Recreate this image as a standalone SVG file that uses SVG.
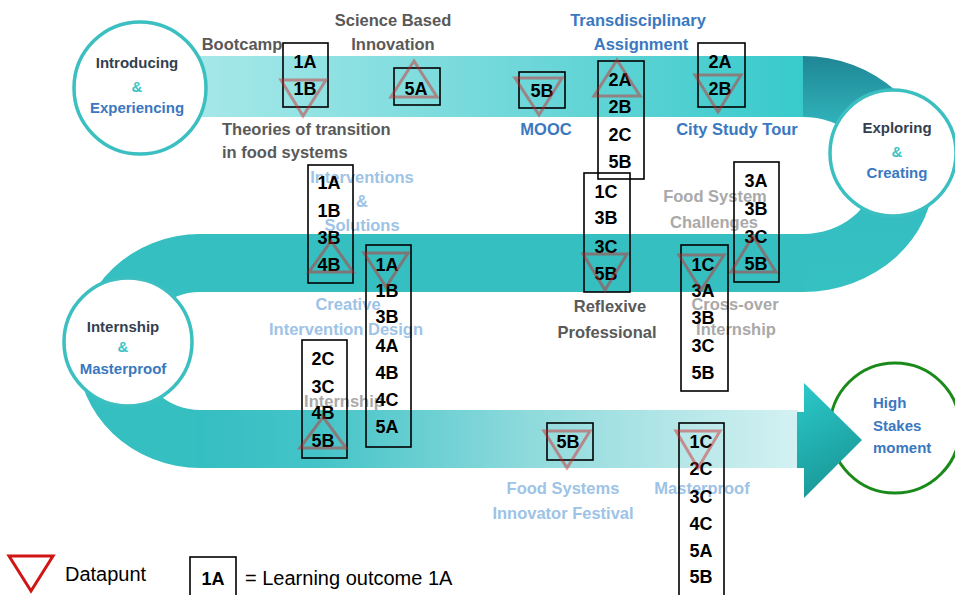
<svg xmlns="http://www.w3.org/2000/svg" width="955" height="595" viewBox="0 0 955 595">
  <defs>
    <linearGradient id="gTop" x1="200" y1="0" x2="803" y2="0" gradientUnits="userSpaceOnUse">
      <stop offset="0" stop-color="#a6e8e9"/>
      <stop offset="0.5" stop-color="#72d8da"/>
      <stop offset="1" stop-color="#38cacb"/>
    </linearGradient>
    <linearGradient id="gBend" x1="0" y1="56" x2="0" y2="292" gradientUnits="userSpaceOnUse">
      <stop offset="0" stop-color="#1f8696"/>
      <stop offset="0.35" stop-color="#34bcc2"/>
      <stop offset="1" stop-color="#35c0c1"/>
    </linearGradient>
    <linearGradient id="gBottom" x1="200" y1="0" x2="800" y2="0" gradientUnits="userSpaceOnUse">
      <stop offset="0" stop-color="#35bec2"/>
      <stop offset="0.2" stop-color="#45c4c8"/>
      <stop offset="0.55" stop-color="#8fdadc"/>
      <stop offset="1" stop-color="#d4f1f2"/>
    </linearGradient>
    <linearGradient id="gArrow" x1="797" y1="383" x2="862" y2="498" gradientUnits="userSpaceOnUse">
      <stop offset="0" stop-color="#2ccacb"/>
      <stop offset="1" stop-color="#168f8e"/>
    </linearGradient>
    <style>
      .lbl { font-family: "Liberation Sans", Arial, sans-serif; font-weight: bold; font-size: 16.5px; text-anchor: middle; }
      .st { text-anchor: start; }
      .circ { font-size: 15px; }
      .dark { fill: #595959; }
      .blue { fill: #3a78bf; }
      .lblue { fill: #9dc3e6; }
      .lgray { fill: #a9a9a9; }
      .head { fill: #333f50; }
      .amp { fill: #3cc4c6; }
      .box { fill: none; stroke: #000; stroke-width: 1.6; }
      .lo { font-family: "Liberation Sans", Arial, sans-serif; font-weight: bold; font-size: 18px; fill: #000; text-anchor: middle; }
      .dp { fill: none; stroke: #d42020; stroke-opacity: 0.45; stroke-width: 3; stroke-linejoin: miter; }
      .ring { fill: #fff; stroke: #3cbfc0; stroke-width: 3.5; }
      .leg { font-family: "Liberation Sans", Arial, sans-serif; font-size: 20px; fill: #000; }
    </style>
  </defs>

  <!-- winding route -->
  <g id="route">
    <rect x="190" y="56" width="614" height="61" fill="url(#gTop)"/>
    <path d="M803,56 A131,118 0 0 1 803,292 L803,234 A70,58 0 0 0 803,117 Z" fill="url(#gBend)"/>
    <rect x="196" y="234" width="608" height="58" fill="#35bfc1"/>
    <path d="M200,234 A123,117 0 0 0 200,468 L200,410 A61,59 0 0 1 200,292 Z" fill="#35bfc1"/>
    <rect x="198" y="410" width="600" height="58" fill="url(#gBottom)"/>
  </g>

  <!-- phase circles -->
  <g id="introducing">
    <circle class="ring" cx="140" cy="88" r="66"/>
    <text class="lbl circ head" x="137" y="68">Introducing</text>
    <text class="lbl circ amp" x="137" y="92">&amp;</text>
    <text class="lbl circ blue" x="137" y="113">Experiencing</text>
  </g>
  <g id="exploring">
    <circle class="ring" cx="893" cy="153" r="63"/>
    <text class="lbl circ head" x="897" y="133">Exploring</text>
    <text class="lbl circ amp" x="897" y="157">&amp;</text>
    <text class="lbl circ blue" x="897" y="178">Creating</text>
  </g>
  <g id="internship-circle">
    <circle class="ring" cx="128" cy="342" r="64"/>
    <text class="lbl circ head" x="123" y="332">Internship</text>
    <text class="lbl circ amp" x="123" y="352">&amp;</text>
    <text class="lbl circ blue" x="123" y="374">Masterproof</text>
  </g>
  <g id="high-stakes">
    <circle cx="895" cy="428" r="65" fill="#fff" stroke="#1a8a1a" stroke-width="3"/>
    <text class="lbl circ blue st" x="873" y="408">High</text>
    <text class="lbl circ blue st" x="873" y="431">Stakes</text>
    <text class="lbl circ blue st" x="873" y="453">moment</text>
  </g>

  <!-- final arrow into the last phase -->
  <g id="arrow">
    <path d="M797,412 L804,412 L804,383 L862,440 L804,498 L804,468 L797,468 Z" fill="url(#gArrow)"/>
  </g>

  <!-- course labels -->
  <g id="labels">
    <text class="lbl dark" x="242" y="50">Bootcamp</text>
    <text class="lbl dark" x="393" y="26">Science Based</text>
    <text class="lbl dark" x="393" y="50">Innovation</text>
    <text class="lbl blue" x="638" y="26">Transdisciplinary</text>
    <text class="lbl blue" x="641" y="50">Assignment</text>
    <text class="lbl dark st" x="222" y="135">Theories of transition</text>
    <text class="lbl dark st" x="222" y="158">in food systems</text>
    <text class="lbl blue" x="546" y="135">MOOC</text>
    <text class="lbl blue" x="737" y="135">City Study Tour</text>
    <text class="lbl lblue" x="362" y="183">Interventions</text>
    <text class="lbl lblue" x="362" y="207">&amp;</text>
    <text class="lbl lblue" x="362" y="231">Solutions</text>
    <text class="lbl lblue" x="348" y="310">Creative</text>
    <text class="lbl lblue" x="346" y="335">Intervention Design</text>
    <text class="lbl lgray" x="715" y="202">Food System</text>
    <text class="lbl lgray" x="714" y="228">Challenges</text>
    <text class="lbl dark" x="610" y="312">Reflexive</text>
    <text class="lbl dark" x="607" y="338">Professional</text>
    <text class="lbl lgray" x="735" y="310">Cross-over</text>
    <text class="lbl lgray" x="736" y="335">Internship</text>
    <text class="lbl lgray" x="344" y="407">Internship</text>
    <text class="lbl lblue" x="563" y="494">Food Systems</text>
    <text class="lbl lblue" x="563" y="519">Innovator Festival</text>
    <text class="lbl lblue" x="702" y="494">Masterproof</text>
  </g>

  <!-- learning outcome boxes with data points -->
  <g id="bootcamp">
    <rect class="box" x="283" y="43" width="45" height="64"/>
    <text class="lo" x="305" y="68">1A</text>
    <text class="lo" x="305" y="95">1B</text>
    <polygon class="dp" points="281,80 326,80 303,116"/>
  </g>
  <g id="science-based">
    <rect class="box" x="394" y="68" width="46" height="37"/>
    <text class="lo" x="416" y="95">5A</text>
    <polygon class="dp" points="414,61 437,97 391,97"/>
  </g>
  <g id="mooc">
    <rect class="box" x="519" y="72" width="46" height="36"/>
    <text class="lo" x="542" y="97">5B</text>
    <polygon class="dp" points="515,78 562,78 539,115"/>
  </g>
  <g id="transdisciplinary">
    <rect class="box" x="598" y="61" width="46" height="118"/>
    <text class="lo" x="620" y="86">2A</text>
    <text class="lo" x="620" y="113">2B</text>
    <text class="lo" x="620" y="141">2C</text>
    <text class="lo" x="620" y="168">5B</text>
    <polygon class="dp" points="617,60 640,96 594,96"/>
  </g>
  <g id="city-study-tour">
    <rect class="box" x="698" y="43" width="47" height="64"/>
    <text class="lo" x="720" y="68">2A</text>
    <text class="lo" x="720" y="95">2B</text>
    <polygon class="dp" points="695,75 741,75 718,112"/>
  </g>
  <g id="food-system-challenges">
    <rect class="box" x="734" y="162" width="45" height="120"/>
    <text class="lo" x="756" y="187">3A</text>
    <text class="lo" x="756" y="215">3B</text>
    <text class="lo" x="756" y="243">3C</text>
    <text class="lo" x="756" y="270">5B</text>
    <polygon class="dp" points="753,236 776,272 731,272"/>
  </g>
  <g id="reflexive-professional">
    <rect class="box" x="584" y="173" width="46" height="119"/>
    <text class="lo" x="606" y="198">1C</text>
    <text class="lo" x="606" y="224">3B</text>
    <text class="lo" x="606" y="253">3C</text>
    <text class="lo" x="606" y="280">5B</text>
    <polygon class="dp" points="583,254 627,254 605,290"/>
  </g>
  <g id="cross-over-internship">
    <rect class="box" x="681" y="245" width="47" height="146"/>
    <text class="lo" x="703" y="271">1C</text>
    <text class="lo" x="703" y="297">3A</text>
    <text class="lo" x="703" y="324">3B</text>
    <text class="lo" x="703" y="352">3C</text>
    <text class="lo" x="703" y="379">5B</text>
    <polygon class="dp" points="679,255 724,255 701,290"/>
  </g>
  <g id="interventions-solutions">
    <rect class="box" x="308" y="165" width="45" height="118"/>
    <text class="lo" x="329" y="189">1A</text>
    <text class="lo" x="329" y="217">1B</text>
    <text class="lo" x="329" y="244">3B</text>
    <text class="lo" x="329" y="271">4B</text>
    <polygon class="dp" points="331,241 353,272 309,272"/>
  </g>
  <g id="creative-intervention-design">
    <rect class="box" x="366" y="245" width="45" height="202"/>
    <text class="lo" x="387" y="271">1A</text>
    <text class="lo" x="387" y="297">1B</text>
    <text class="lo" x="387" y="323">3B</text>
    <text class="lo" x="387" y="352">4A</text>
    <text class="lo" x="387" y="379">4B</text>
    <text class="lo" x="387" y="406">4C</text>
    <text class="lo" x="387" y="433">5A</text>
    <polygon class="dp" points="364,253 408,253 386,287"/>
  </g>
  <g id="internship">
    <rect class="box" x="302" y="340" width="45" height="118"/>
    <text class="lo" x="323" y="365">2C</text>
    <text class="lo" x="323" y="393">3C</text>
    <text class="lo" x="323" y="419">4B</text>
    <text class="lo" x="323" y="447">5B</text>
    <polygon class="dp" points="323,417 346,448 300,448"/>
  </g>
  <g id="innovator-festival">
    <rect class="box" x="547" y="423" width="46" height="37"/>
    <text class="lo" x="568" y="448">5B</text>
    <polygon class="dp" points="544,431 590,431 567,468"/>
  </g>
  <g id="masterproof">
    <rect class="box" x="679" y="423" width="45" height="180"/>
    <text class="lo" x="701" y="448">1C</text>
    <text class="lo" x="701" y="475">2C</text>
    <text class="lo" x="701" y="503">3C</text>
    <text class="lo" x="701" y="530">4C</text>
    <text class="lo" x="701" y="557">5A</text>
    <text class="lo" x="701" y="583">5B</text>
    <polygon class="dp" points="676,431 720,431 698,468"/>
  </g>

  <!-- legend -->
  <g id="legend">
    <polygon points="9,556 53,556 31,591" fill="none" stroke="#d01515" stroke-width="3"/>
    <text class="leg" x="65" y="581">Datapunt</text>
    <rect class="box" x="190" y="557" width="46" height="42"/>
    <text class="lo" x="213" y="585">1A</text>
    <text class="leg" x="245" y="585">= Learning outcome 1A</text>
  </g>
</svg>
